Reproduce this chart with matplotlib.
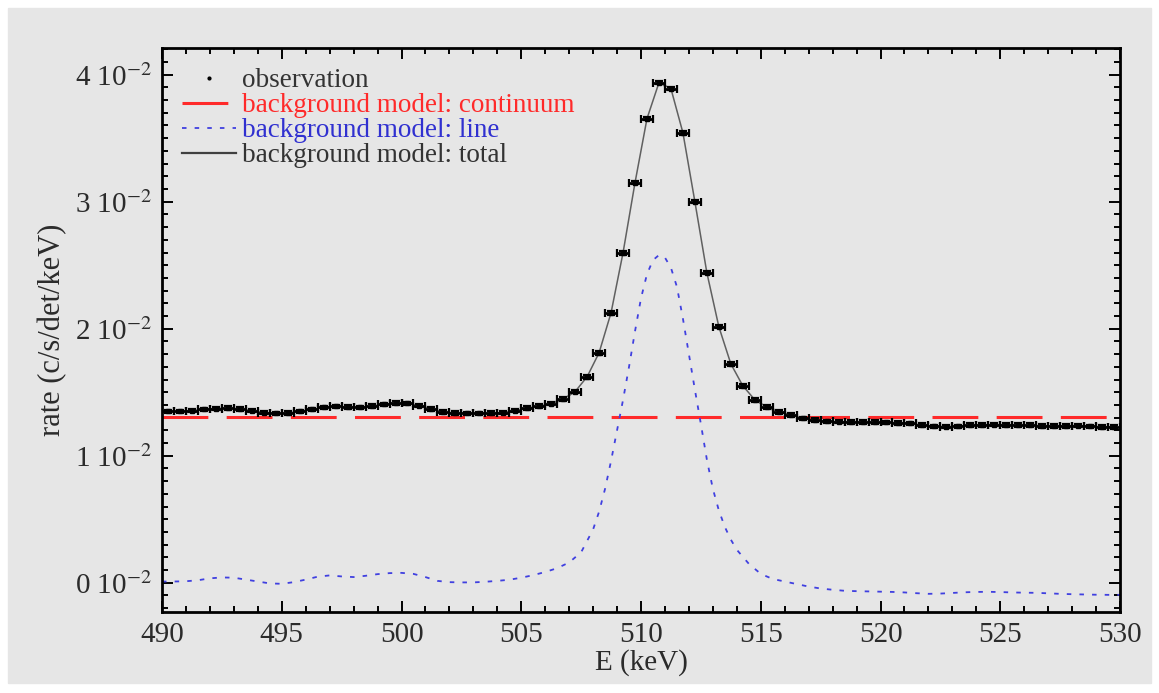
import numpy as np
import matplotlib
matplotlib.use("Agg")
import matplotlib.pyplot as plt
from matplotlib.ticker import MultipleLocator, FuncFormatter
from matplotlib.lines import Line2D
from matplotlib.patches import Rectangle

plt.rcParams['font.family'] = ['Liberation Serif', 'DejaVu Serif']
plt.rcParams['mathtext.fontset'] = 'stix'

# observed spectrum, 0.5 keV bins (units of 1e-2 c/s/det/keV)
bin_e = np.arange(490.25, 530.0, 0.5)
obs = [1.349, 1.349, 1.355, 1.365, 1.372, 1.375, 1.370, 1.355, 1.340, 1.333,
       1.336, 1.350, 1.365, 1.380, 1.388, 1.385, 1.380, 1.390, 1.405, 1.415,
       1.412, 1.395, 1.370, 1.345, 1.336, 1.333, 1.333, 1.336, 1.340, 1.355,
       1.375, 1.390, 1.410, 1.445, 1.505, 1.622, 1.811, 2.126, 2.598, 3.150,
       3.654, 3.937, 3.890, 3.543, 3.000, 2.441, 2.016, 1.724, 1.551, 1.441,
       1.382, 1.346, 1.323, 1.295, 1.280, 1.270, 1.268, 1.266, 1.265, 1.265,
       1.262, 1.260, 1.255, 1.240, 1.232, 1.230, 1.232, 1.240, 1.244, 1.246,
       1.244, 1.240, 1.240, 1.236, 1.233, 1.236, 1.238, 1.232, 1.228, 1.228]

continuum = 1.303

# line component of the background model
line_e = [490.0, 490.5, 491.0, 491.5, 492.0, 492.5, 493.0, 493.5, 494.0, 494.5,
          495.0, 495.5, 496.0, 496.5, 497.0, 497.5, 498.0, 498.5, 499.0, 499.5,
          500.0, 500.5, 501.0, 501.5, 502.0, 502.5, 503.0, 503.5, 504.0, 504.5,
          505.0, 505.5, 506.0, 506.5, 507.0, 507.5, 508.0, 508.25, 508.5, 508.75,
          509.0, 509.25, 509.5, 509.75, 510.0, 510.25, 510.5, 510.75, 511.0, 511.25,
          511.5, 511.75, 512.0, 512.25, 512.5, 512.75, 513.0, 513.25, 513.5, 513.75,
          514.0, 514.5, 515.0, 515.5, 516.0, 516.5, 517.0, 517.5, 518.0, 518.5,
          519.0, 519.5, 520.0, 520.5, 521.0, 521.5, 522.0, 522.5, 523.0, 523.5,
          524.0, 524.5, 525.0, 525.5, 526.0, 526.5, 527.0, 527.5, 528.0, 528.5,
          529.0, 529.5, 530.0]
line_v = [0.010, 0.010, 0.012, 0.020, 0.035, 0.042, 0.040, 0.025, 0.010, -0.005,
          -0.008, 0.005, 0.025, 0.048, 0.058, 0.050, 0.045, 0.055, 0.068, 0.076,
          0.078, 0.070, 0.045, 0.015, 0.005, 0.003, 0.003, 0.008, 0.015, 0.024,
          0.040, 0.060, 0.085, 0.115, 0.160, 0.240, 0.420, 0.560, 0.740, 0.960,
          1.200, 1.440, 1.700, 1.980, 2.240, 2.430, 2.540, 2.580, 2.560, 2.480,
          2.330, 2.080, 1.800, 1.520, 1.250, 0.970, 0.740, 0.570, 0.440, 0.340,
          0.260, 0.150, 0.070, 0.030, 0.010, -0.010, -0.030, -0.045, -0.055, -0.063,
          -0.066, -0.068, -0.070, -0.072, -0.076, -0.082, -0.087, -0.085, -0.080, -0.075,
          -0.072, -0.071, -0.073, -0.076, -0.078, -0.079, -0.083, -0.087, -0.090, -0.092,
          -0.094, -0.095, -0.095]

bg = '#e6e6e6'
txt = '#2b2b2b'
red = '#ff2a2a'
blue = '#4040e0'

fig = plt.figure(figsize=(11.59, 6.93), dpi=100, facecolor='white')
fig.patches.append(Rectangle((8 / 1159, 10 / 693), 1143 / 1159, 675 / 693,
                             transform=fig.transFigure, color=bg, zorder=-10))
ax = fig.add_axes([162 / 1159, 81 / 693, 958 / 1159, 564 / 693])
ax.set_facecolor(bg)

y_obs = np.array(obs) * 1e-2
ax.axhline(continuum * 1e-2, color=red, lw=2.2, dashes=(15, 6), zorder=2)
ax.plot(line_e, np.array(line_v) * 1e-2, color=blue, lw=1.3, dashes=(2.5, 4.5), zorder=2)
ax.plot(bin_e, y_obs, color='#606060', lw=1.1, zorder=3)
ax.errorbar(bin_e, y_obs, xerr=0.25, yerr=0.00014, fmt='s', ms=2.5, color='black',
            ecolor='black', elinewidth=2.0, capsize=3, capthick=1.6, zorder=4)

ax.set_xlim(490, 530)
ax.set_ylim(-0.0023, 0.0421)
ax.xaxis.set_major_locator(MultipleLocator(5))
ax.xaxis.set_minor_locator(MultipleLocator(1))
ax.yaxis.set_major_locator(MultipleLocator(0.01))
ax.yaxis.set_minor_locator(MultipleLocator(0.001))
ax.yaxis.set_major_formatter(FuncFormatter(lambda v, p: f"{int(round(v * 100))} 10$^{{-2}}$"))
ax.tick_params(which='both', direction='in', top=True, right=True, color='black',
               labelsize=21, labelcolor=txt, width=1.4)
ax.tick_params(which='major', length=8, pad=7)
ax.tick_params(which='minor', length=4)
for s in ax.spines.values():
    s.set_linewidth(2)
    s.set_color('black')

ax.set_xlabel('E (keV)', fontsize=21, color=txt, labelpad=1)
ax.set_ylabel('rate (c/s/det/keV)', fontsize=22, color=txt, labelpad=6)

handles = [Line2D([], [], ls='none', marker='.', ms=4, color='black'),
           Line2D([], [], color=red, lw=2.2, dashes=(15, 6)),
           Line2D([], [], color=blue, lw=1.3, dashes=(2.5, 4.5)),
           Line2D([], [], color='#404040', lw=1.6)]
labels = ['observation', 'background model: continuum',
          'background model: line', 'background model: total']
ax.legend(handles, labels, loc='upper left', frameon=False, fontsize=19.5,
          handlelength=2.0, handletextpad=0.2, labelspacing=0.0,
          borderaxespad=0.35, labelcolor=['#333333', red, '#3030d0', '#333333'])

fig.savefig('out.png', dpi=100, facecolor='white')
